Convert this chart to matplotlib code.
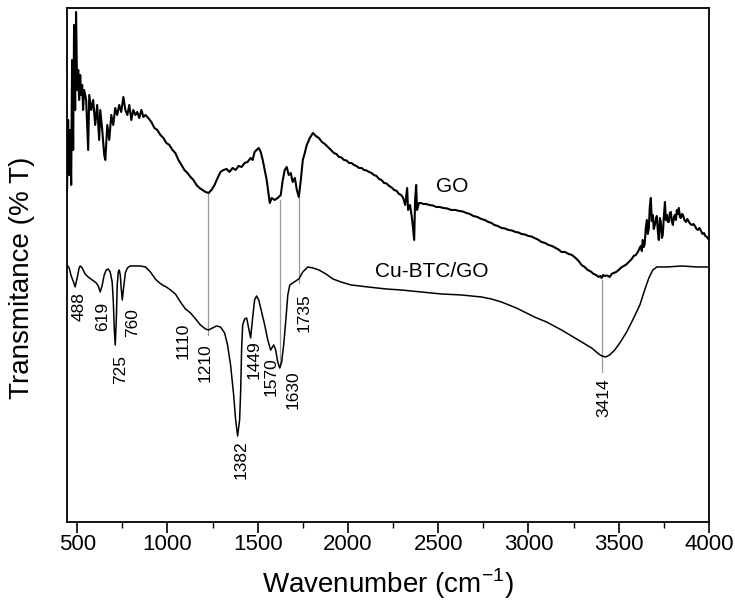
import numpy as np
import matplotlib
matplotlib.use("Agg")
import matplotlib.pyplot as plt
from matplotlib.ticker import MultipleLocator

plt.rcParams['font.family'] = ['Liberation Sans', 'DejaVu Sans']

# GO spectrum (wavenumber, transmittance in arbitrary % units)
go_wn = [444, 450, 456, 461, 467, 472, 478, 483, 489, 494, 500, 506, 511, 517, 522,
         528, 533, 539, 550, 561, 567, 578, 589, 600, 611, 622, 628, 639, 650, 656,
         667, 678, 689, 700, 711, 722, 733, 744, 756, 767, 778, 789, 800, 811, 822,
         833, 844, 856, 867, 878, 894, 911, 928, 944, 961, 978, 994, 1011, 1028, 1044,
         1061, 1078, 1094, 1111, 1128, 1144, 1161, 1178, 1194, 1211, 1228, 1244, 1261,
         1278, 1294, 1311, 1328, 1344, 1361, 1378, 1394, 1411, 1428, 1444, 1461, 1472,
         1483, 1494, 1506, 1517, 1528, 1539, 1550, 1561, 1567, 1578, 1594, 1611, 1628,
         1639, 1650, 1661, 1672, 1683, 1694, 1706, 1717, 1728, 1739, 1750, 1761, 1772,
         1789, 1806, 1822, 1839, 1856, 1872, 1889, 1906, 1922, 1936, 1950, 1964, 1978,
         1992, 2006, 2020, 2033, 2047, 2061, 2075, 2089, 2103, 2117, 2131, 2144, 2158,
         2172, 2186, 2200, 2214, 2228, 2242, 2256, 2270, 2283, 2295, 2306, 2317, 2328,
         2333, 2344, 2356, 2367, 2372, 2378, 2383, 2394, 2405, 2417, 2433, 2450, 2470,
         2489, 2508, 2528, 2550, 2572, 2595, 2617, 2636, 2656, 2675, 2694, 2717, 2739,
         2758, 2778, 2795, 2811, 2830, 2850, 2870, 2889, 2908, 2928, 2945, 2961, 2980,
         3000, 3017, 3033, 3052, 3072, 3092, 3111, 3130, 3150, 3166, 3183, 3202, 3222,
         3241, 3261, 3278, 3294, 3311, 3328, 3345, 3361, 3375, 3389, 3398, 3406, 3414,
         3422, 3436, 3450, 3461, 3472, 3486, 3500, 3514, 3528, 3542, 3556, 3570, 3583,
         3595, 3606, 3614, 3622, 3628, 3633, 3639, 3644, 3650, 3656, 3661, 3667, 3672,
         3678, 3683, 3689, 3694, 3700, 3706, 3711, 3717, 3722, 3728, 3733, 3739, 3744,
         3750, 3756, 3761, 3767, 3772, 3778, 3783, 3789, 3794, 3800, 3806, 3811, 3817,
         3822, 3828, 3833, 3839, 3844, 3850, 3856, 3864, 3872, 3880, 3889, 3897, 3906,
         3914, 3922, 3931, 3939, 3947, 3956, 3964, 3972, 3980, 3989, 4000]
go_t = [66.4, 80.4, 69.4, 78.4, 67.4, 92.4, 74.4, 99.4, 82.4, 102.0, 86.4, 90.4, 84.4, 89.4, 85.4,
        87.4, 82.4, 86.4, 84.4, 74.4, 85.4, 82.4, 84.4, 79.4, 83.4, 76.4, 82.4, 78.4, 73.4, 72.4,
        79.4, 76.4, 81.4, 79.4, 82.8, 81.4, 83.4, 82.0, 85.0, 82.4, 81.4, 83.4, 80.4, 82.4, 81.4,
        82.0, 80.8, 82.4, 81.0, 81.4, 80.8, 80.0, 78.8, 78.4, 77.4, 76.8, 75.8, 75.4, 74.4, 73.8,
        72.4, 71.4, 70.4, 69.8, 69.0, 68.4, 67.4, 66.8, 66.4, 66.0, 65.8, 66.4, 67.4,
        68.8, 70.0, 70.4, 70.6, 70.0, 70.8, 70.4, 71.2, 71.0, 71.8, 72.0, 72.8, 72.4,
        74.0, 74.4, 74.8, 74.0, 72.4, 70.4, 68.4, 65.4, 63.8, 64.8, 64.4, 64.8, 65.4,
        68.4, 70.4, 71.0, 69.4, 69.8, 68.0, 68.8, 66.4, 65.0, 68.4, 72.4, 73.8, 75.4,
        76.8, 77.8, 77.2, 76.8, 76.0, 75.6, 75.0, 74.4, 73.8, 73.6, 73.0, 72.9, 72.4,
        72.3, 71.8, 71.8, 71.4, 71.2, 70.8, 70.8, 70.4, 70.3, 70.0, 69.8, 69.4, 69.2,
        68.6, 68.4, 67.8, 67.7, 67.2, 66.9, 66.4, 66.2, 65.6, 65.4, 64.8, 63.4, 66.8,
        62.4, 63.4, 60.4, 56.4, 64.4, 67.4, 62.4, 63.8, 63.8, 63.6, 63.6, 63.4, 63.3,
        63.0, 63.0, 62.8, 62.7, 62.4, 62.4, 62.2, 62.1, 61.8, 61.6, 61.2, 61.0, 60.6,
        60.4, 60.0, 59.8, 59.4, 59.2, 58.8, 58.7, 58.4, 58.3, 58.0, 57.9, 57.6, 57.5,
        57.2, 57.1, 56.8, 56.5, 56.0, 55.8, 55.4, 55.2, 54.8, 54.5, 54.0, 54.0, 53.6,
        53.4, 52.8, 52.2, 51.4, 51.0, 50.4, 50.1, 49.6, 49.4, 49.0, 49.2, 48.8, 49.4,
        49.2, 49.3, 49.0, 49.6, 49.8, 50.0, 50.4, 50.9, 51.2, 51.5, 52.0, 52.5, 53.2,
        53.4, 54.0, 54.6, 55.2, 54.2, 56.4, 55.0, 55.6, 58.8, 60.4, 57.6, 58.8, 63.0,
        64.8, 60.2, 61.4, 58.6, 59.4, 60.6, 61.2, 58.0, 56.4, 60.8, 60.0, 56.8, 57.4,
        61.0, 64.0, 60.4, 61.4, 60.0, 60.0, 61.8, 62.0, 60.2, 59.4, 61.0, 61.4, 60.4,
        62.4, 61.6, 62.8, 61.0, 60.8, 61.6, 61.4, 60.4, 60.0, 60.6, 60.0, 59.6, 59.4,
        59.6, 59.2, 58.6, 58.4, 58.8, 58.2, 57.6, 57.8, 57.2, 57.0, 56.4]

# Cu-BTC/GO spectrum
cu_wn = [444, 456, 467, 478, 489, 500, 511, 517, 528, 544, 561, 583, 606, 617, 628,
         639, 650, 661, 672, 683, 694, 700, 706, 711, 717, 722, 728, 733, 739, 744,
         750, 756, 767, 778, 794, 822, 850, 878, 906, 933, 950, 972, 994, 1017, 1044,
         1072, 1100, 1128, 1156, 1183, 1211, 1228, 1250, 1272, 1294, 1317, 1333, 1350,
         1367, 1378, 1389, 1400, 1406, 1411, 1417, 1428, 1439, 1450, 1461, 1472, 1483,
         1494, 1506, 1522, 1539, 1556, 1572, 1589, 1600, 1611, 1622, 1633, 1644, 1656,
         1667, 1678, 1694, 1711, 1728, 1750, 1778, 1806, 1839, 1878, 1917, 1961, 2017,
         2111, 2211, 2294, 2406, 2517, 2628, 2739, 2794, 2850, 2933, 3033, 3100, 3183,
         3239, 3294, 3350, 3389, 3406, 3428, 3450, 3478, 3506, 3544, 3583, 3617, 3644,
         3667, 3689, 3711, 3767, 3850, 3933, 4000]
cu_t = [51.4, 50.8, 49.2, 48.2, 47.0, 48.8, 50.8, 51.2, 50.8, 49.6, 49.0, 48.4, 47.8, 47.2, 46.0,
        47.4, 49.4, 50.4, 50.6, 50.0, 48.0, 44.4, 38.4, 35.4, 40.4, 47.4, 50.0, 50.4, 49.4, 46.8,
        44.4, 46.4, 49.8, 50.8, 51.2, 51.2, 51.2, 51.0, 50.0, 48.6, 48.0, 47.4, 47.0, 46.4, 45.6,
        44.0, 42.6, 41.8, 40.6, 39.4, 38.6, 38.4, 38.8, 39.2, 39.0, 37.8, 35.4, 31.4,
        25.4, 20.4, 17.2, 20.4, 26.4, 34.4, 39.4, 40.6, 40.8, 38.8, 36.8, 40.8, 44.4,
        45.2, 44.4, 42.0, 39.4, 36.4, 34.4, 35.4, 34.4, 32.0, 30.8, 32.0, 35.4, 40.4,
        45.4, 47.4, 47.8, 48.2, 48.6, 50.0, 51.0, 50.8, 50.4, 49.6, 48.6, 48.0, 47.4,
        47.0, 46.6, 46.4, 46.0, 45.6, 45.4, 45.0, 44.6, 44.0, 42.8, 41.0, 40.0, 38.4,
        37.2, 36.0, 34.8, 33.6, 33.2, 33.0, 33.4, 34.4, 35.8, 38.0, 40.8, 43.4, 46.4,
        48.8, 50.4, 51.0, 51.0, 51.2, 51.0, 51.0]

# peak labels: text, x, top of text
peak_labels = ['488', '619', '725', '760', '1110', '1210', '1382', '1449', '1570', '1630', '1735', '3414']
peak_x = [511, 639, 739, 806, 1089, 1211, 1406, 1478, 1572, 1694, 1756, 3417]
peak_top = [46.0, 44.0, 33.4, 42.8, 39.8, 35.8, 16.4, 36.4, 33.0, 30.4, 45.8, 28.8]

# gray guide lines between the two spectra
guide_x = [1225, 1622, 1728, 3406]
guide_top = [65.8, 64.4, 65.0, 48.4]
guide_bottom = [37.4, 31.0, 47.8, 30.0]

fig = plt.figure(figsize=(7.35, 6.13), dpi=100)
ax = fig.add_axes([0.0912, 0.1485, 0.8734, 0.8385])

for x, y0, y1 in zip(guide_x, guide_top, guide_bottom):
    ax.plot([x, x], [y0, y1], color='#9a9a9a', lw=0.9, zorder=1)

ax.plot(go_wn, go_t, color='black', lw=1.5, zorder=2)
ax.plot(cu_wn, cu_t, color='black', lw=1.1, zorder=2)

for s, x, y in zip(peak_labels, peak_x, peak_top):
    ax.text(x, y, s, rotation=90, ha='center', va='top', fontsize=12.5)

ax.text(2578, 67.0, 'GO', ha='center', va='center', fontsize=15)
ax.text(2467, 50.0, 'Cu-BTC/GO', ha='center', va='center', fontsize=15)

ax.set_xlim(444, 4000)
ax.set_ylim(0, 102.8)
ax.set_yticks([])
ax.xaxis.set_major_locator(MultipleLocator(500))
ax.xaxis.set_minor_locator(MultipleLocator(250))
ax.tick_params(axis='x', which='major', direction='out', length=8, width=1.2,
               labelsize=16, pad=1)
ax.tick_params(axis='x', which='minor', direction='out', length=4, width=1.0)
for sp in ax.spines.values():
    sp.set_linewidth(1.3)

ax.set_xlabel('Wavenumber (cm$^{\\mathregular{-1}}$)', fontsize=20, labelpad=8)
ax.set_ylabel('Transmitance (% T)', fontsize=20)
ax.yaxis.set_label_coords(-0.05, 0.475)

fig.savefig('out.png', dpi=100)
